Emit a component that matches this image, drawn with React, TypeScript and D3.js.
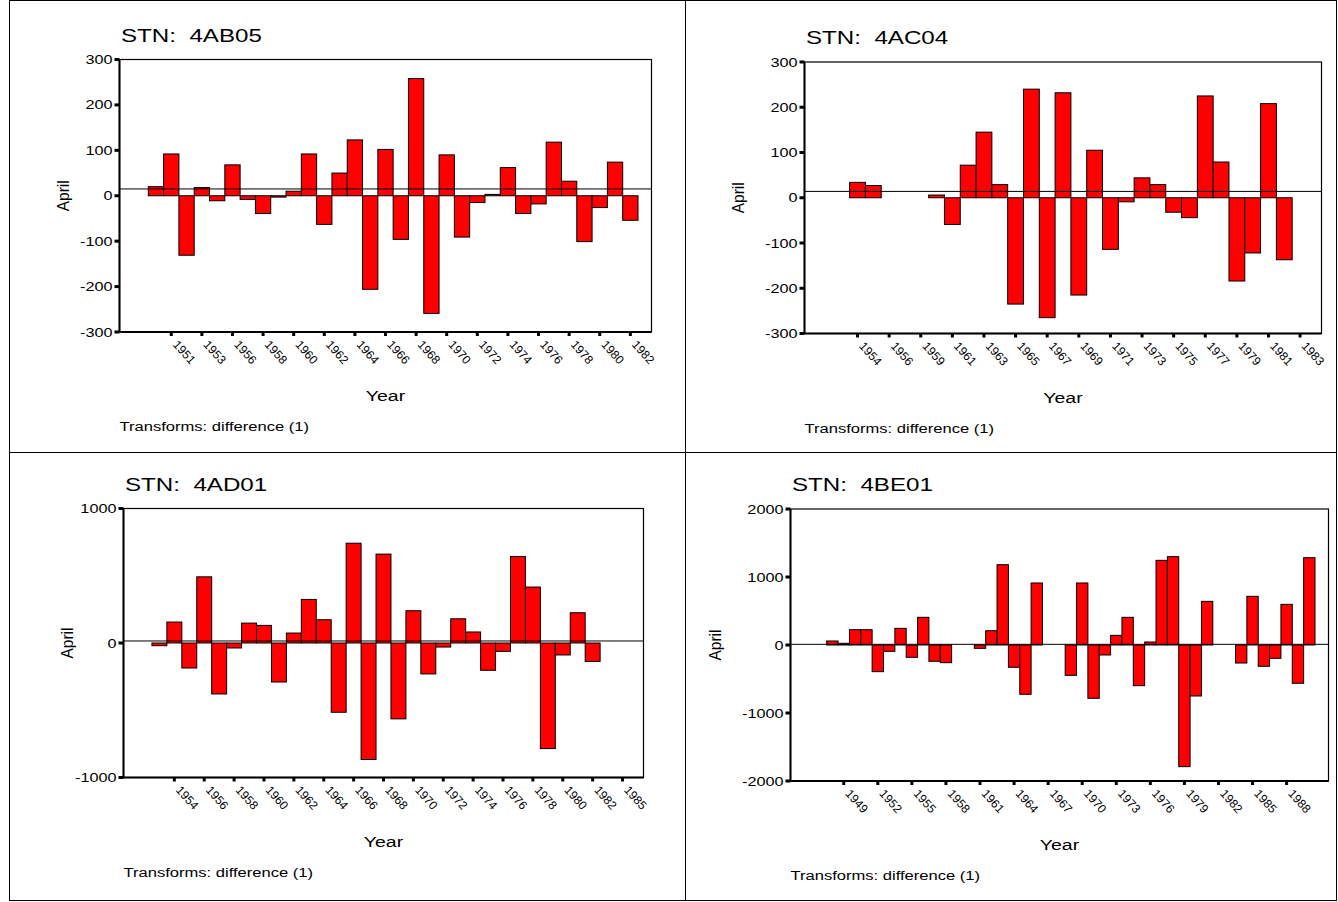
import React from "react";
import * as d3 from "d3";

// April differenced flows, one slot per case; null = missing case
const titleAB05 = "STN:  4AB05";
const valuesAB05 = [null, 20, 92, -131, 18, -11, 68, -8, -39, -3, 10, 92, -63, 50, 123, -206, 102, -96, 258, -259, 90, -91, -15, 3, 62, -39, -18, 118, 32, -101, -26, 74, -54];
const labelsAB05 = ["1951", "1953", "1956", "1958", "1960", "1962", "1964", "1966", "1968", "1970", "1972", "1974", "1976", "1978", "1980", "1982"];
const yTicksAB05 = [-300, -200, -100, 0, 100, 200, 300];

const titleAC04 = "STN:  4AC04";
const valuesAC04 = [null, null, 34, 27, null, null, null, 6, -59, 72, 145, 29, -235, 240, -265, 232, -215, 105, -114, -9, 44, 29, -32, -44, 225, 79, -184, -122, 208, -137, null];
const labelsAC04 = ["1954", "1956", "1959", "1961", "1963", "1965", "1967", "1969", "1971", "1973", "1975", "1977", "1979", "1981", "1983"];
const yTicksAC04 = [-300, -200, -100, 0, 100, 200, 300];

const titleAD01 = "STN:  4AD01";
const valuesAD01 = [null, -20, 156, -186, 492, -379, -37, 148, 131, -290, 74, 324, 173, -515, 742, -866, 661, -564, 240, -230, -30, 180, 82, -203, -62, 643, 416, -785, -89, 225, -137, null, null];
const labelsAD01 = ["1954", "1956", "1958", "1960", "1962", "1964", "1966", "1968", "1970", "1972", "1974", "1976", "1978", "1980", "1982", "1985"];
const yTicksAD01 = [-1000, 0, 1000];

const titleBE01 = "STN:  4BE01";
const valuesBE01 = [null, null, 59, 25, 225, 225, -392, -93, 245, -181, 407, -240, -260, null, null, -49, 210, 1181, -328, -725, 912, null, null, -446, 912, -784, -147, 142, 407, -598, 44, 1245, 1299, -1789, -750, 642, null, null, -265, 716, -313, -196, 598, -563, 1284];
const labelsBE01 = ["1949", "1952", "1955", "1958", "1961", "1964", "1967", "1970", "1973", "1976", "1979", "1982", "1985", "1988"];
const yTicksBE01 = [-2000, -1000, 0, 1000, 2000];

// reference line levels
const refLevels = [15, 14, 15, 10];

const FONT = "'Liberation Sans', Arial, Helvetica, sans-serif";

type PanelSpec = {
  title: string;
  values: (number | null)[];
  labels: string[];
  yTicks: number[];
  ref: number;
  tickStart: number;
  tickStep: number;
  box: { x0: number; x1: number; y0: number; y1: number };
  aprilX: number;
};

const panels: PanelSpec[] = [
  { title: titleAB05, values: valuesAB05, labels: labelsAB05, yTicks: yTicksAB05, ref: refLevels[0], tickStart: 2, tickStep: 2,
    box: { x0: 119.5, x1: 651.5, y0: 59.5, y1: 332 }, aprilX: 69 },
  { title: titleAC04, values: valuesAC04, labels: labelsAC04, yTicks: yTicksAC04, ref: refLevels[1], tickStart: 2, tickStep: 2,
    box: { x0: 804.5, x1: 1321.5, y0: 62, y1: 333.5 }, aprilX: 744 },
  { title: titleAD01, values: valuesAD01, labels: labelsAD01, yTicks: yTicksAD01, ref: refLevels[2], tickStart: 2, tickStep: 2,
    box: { x0: 123.5, x1: 643.5, y0: 508.5, y1: 777.5 }, aprilX: 73 },
  { title: titleBE01, values: valuesBE01, labels: labelsBE01, yTicks: yTicksBE01, ref: refLevels[3], tickStart: 3, tickStep: 3,
    box: { x0: 790.5, x1: 1328.5, y0: 509, y1: 781 }, aprilX: 721 },
];

function Txt({ x, y, size, sx = 1.3, anchor = "start", rotate = 0, children }: any) {
  return (
    <text
      transform={`translate(${x},${y}) scale(${sx},1) rotate(${rotate})`}
      fontSize={size}
      textAnchor={anchor}
      fontFamily={FONT}
      fill="#000"
      style={{ whiteSpace: "pre" }}
    >
      {children}
    </text>
  );
}

function Panel({ p }: { p: PanelSpec }) {
  const { x0, x1, y0, y1 } = p.box;
  const pad = 13.5;
  const x = d3
    .scaleBand<number>()
    .domain(d3.range(p.values.length))
    .range([x0 + pad, x1 - pad])
    .paddingInner(0)
    .paddingOuter(0);
  const ext = d3.max(p.yTicks.map(Math.abs)) as number;
  const y = d3.scaleLinear().domain([-ext, ext]).range([y1, y0]);
  const tickSlots = p.labels.map((_, i) => p.tickStart + i * p.tickStep);
  const bw = x.bandwidth();

  return (
    <g>
      <Txt x={x0 + 1.5} y={y0 - 18} size={17.5} sx={1.38}>{p.title.replace(/ /g, "\u00a0")}</Txt>

      {/* bars */}
      {p.values.map((v, i) =>
        v === null ? null : (
          <rect
            key={i}
            x={x(i)}
            y={Math.min(y(v), y(0))}
            width={bw}
            height={Math.abs(y(v) - y(0))}
            fill="#ff0000"
            stroke="#000"
            strokeWidth={1}
          />
        )
      )}

      {/* reference line */}
      <line x1={x0} x2={x1} y1={y(p.ref)} y2={y(p.ref)} stroke="#000" strokeWidth={1} />

      {/* frame */}
      <rect x={x0} y={y0} width={x1 - x0} height={y1 - y0} fill="none" stroke="#000" strokeWidth={1.2} />
      <line x1={x0} x2={x0} y1={y0} y2={y1} stroke="#000" strokeWidth={2} />
      <line x1={x0} x2={x1} y1={y1} y2={y1} stroke="#000" strokeWidth={2} />

      {/* y axis */}
      {p.yTicks.map((t) => (
        <g key={t}>
          <rect x={x0 - 5} y={y(t) - 1.5} width={5} height={3} fill="#000" />
          <Txt x={x0 - 7} y={y(t) + 4.5} size={12.5} sx={1.3} anchor="end">{String(t)}</Txt>
        </g>
      ))}
      <Txt x={p.aprilX} y={(y0 + y1) / 2} size={15.5} sx={1.1} anchor="middle" rotate={-90}>April</Txt>

      {/* x axis */}
      {tickSlots.map((s, i) => {
        const cx = (x(s) as number) + bw / 2;
        return (
          <g key={s}>
            <rect x={cx - 1.5} y={y1} width={3} height={4} fill="#000" />
            <Txt x={cx + 1} y={y1 + 13} size={12} sx={1} rotate={48}>{p.labels[i]}</Txt>
          </g>
        );
      })}
      <Txt x={(x0 + x1) / 2} y={y1 + 69} size={15} sx={1.3} anchor="middle">Year</Txt>
      <Txt x={x0} y={y1 + 99} size={12} sx={1.38}>Transforms: difference (1)</Txt>
    </g>
  );
}

export default function App() {
  return (
    <svg
      width={1338}
      height={902}
      style={{ position: "absolute", left: 0, top: 0, background: "#fff" }}
    >
      <rect x={0} y={0} width={1338} height={902} fill="#fff" />
      {panels.map((p) => (
        <Panel key={p.title} p={p} />
      ))}
      {/* outer grid of the four chart cells */}
      <g stroke="#000" strokeWidth={1} fill="none">
        <rect x={9.5} y={0.5} width={1327} height={900} />
        <line x1={685.5} x2={685.5} y1={0} y2={901} />
        <line x1={9.5} x2={1337} y1={452.5} y2={452.5} />
      </g>
    </svg>
  );
}
